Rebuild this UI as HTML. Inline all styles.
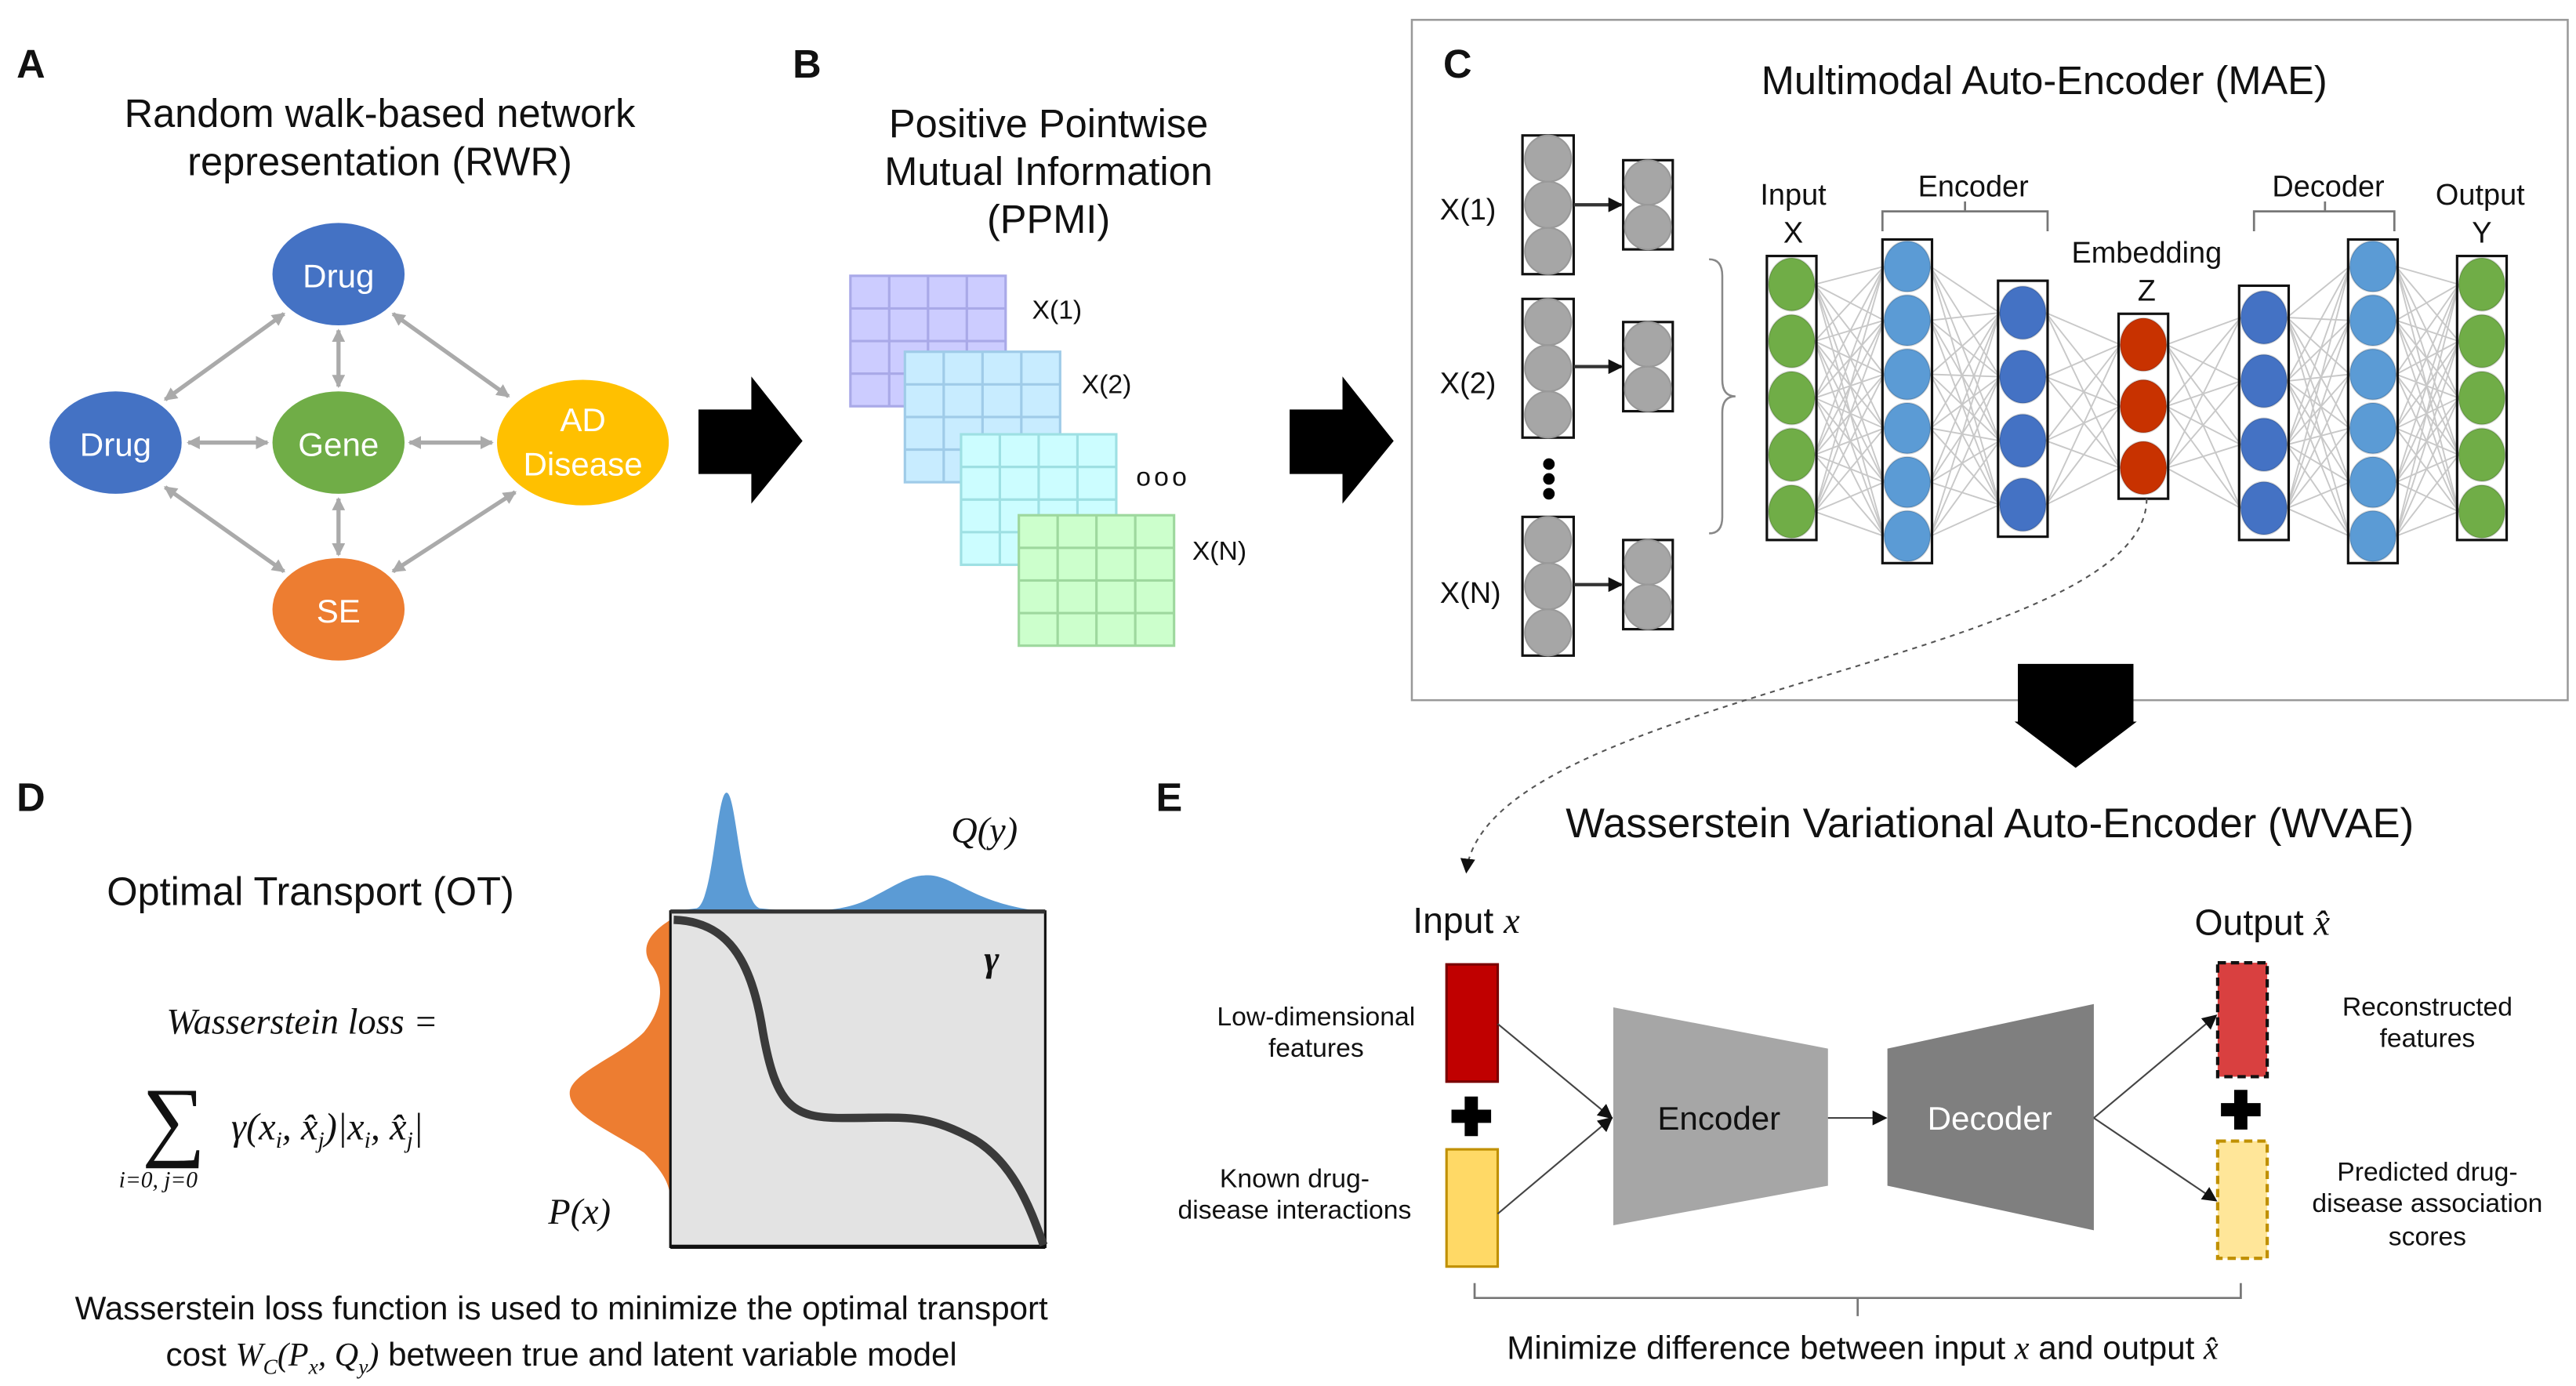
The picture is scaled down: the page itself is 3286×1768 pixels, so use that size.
<!DOCTYPE html>
<html><head><meta charset="utf-8"><style>
html,body{margin:0;padding:0;background:#fff;}
svg{display:block;}
text{font-family:"Liberation Sans",sans-serif;fill:#111;}
.s{font-family:"Liberation Serif",serif;font-style:italic;}
</style></head><body>
<svg id="sv" width="3286" height="1768" viewBox="0 0 1560 839.3" xmlns="http://www.w3.org/2000/svg">
<defs>
<marker id="ga" markerWidth="8" markerHeight="8" refX="7" refY="4" orient="auto-start-reverse" markerUnits="userSpaceOnUse"><path d="M0,0 L8,4 L0,8 z" fill="#aaa"/></marker>
<marker id="ba" markerWidth="9" markerHeight="9" refX="8" refY="4.5" orient="auto" markerUnits="userSpaceOnUse"><path d="M0,0 L9,4.5 L0,9 z" fill="#111"/></marker>
</defs>
<rect width="1560" height="840" fill="#fff"/>
<!-- Panel A -->
<text x="10" y="47" font-size="24" font-weight="bold">A</text>
<text x="230" y="77" font-size="24" text-anchor="middle">Random walk-based network</text>
<text x="230" y="106" font-size="24" text-anchor="middle">representation (RWR)</text>
<g stroke="#aaa" stroke-width="2.5" marker-start="url(#ga)" marker-end="url(#ga)">
<line x1="100" y1="242" x2="172" y2="190"/>
<line x1="205" y1="200" x2="205" y2="234"/>
<line x1="238" y1="190" x2="308" y2="240"/>
<line x1="114" y1="268" x2="162" y2="268"/>
<line x1="248" y1="268" x2="298" y2="268"/>
<line x1="100" y1="295" x2="172" y2="346"/>
<line x1="205" y1="302" x2="205" y2="336"/>
<line x1="238" y1="346" x2="312" y2="298"/>
</g>
<ellipse cx="205" cy="166" rx="40" ry="31" fill="#4472c4"/><text x="205" y="174" font-size="20" text-anchor="middle" style="fill:#fff">Drug</text>
<ellipse cx="70" cy="268" rx="40" ry="31" fill="#4472c4"/><text x="70" y="276" font-size="20" text-anchor="middle" style="fill:#fff">Drug</text>
<ellipse cx="205" cy="268" rx="40" ry="31" fill="#70ad47"/><text x="205" y="276" font-size="20" text-anchor="middle" style="fill:#fff">Gene</text>
<ellipse cx="353" cy="268" rx="52" ry="38" fill="#ffc000"/><text x="353" y="261" font-size="20" text-anchor="middle" style="fill:#fff">AD</text><text x="353" y="288" font-size="20" text-anchor="middle" style="fill:#fff">Disease</text>
<ellipse cx="205" cy="369" rx="40" ry="31" fill="#ed7d31"/><text x="205" y="377" font-size="20" text-anchor="middle" style="fill:#fff">SE</text>
<path d="M423,248 L455,248 L455,228 L486,267 L455,305 L455,287 L423,287 z" fill="#000"/>
<!-- Panel B -->
<text x="480" y="47" font-size="24" font-weight="bold">B</text>
<text x="635" y="83" font-size="24" text-anchor="middle">Positive Pointwise</text>
<text x="635" y="112" font-size="24" text-anchor="middle">Mutual Information</text>
<text x="635" y="141" font-size="24" text-anchor="middle">(PPMI)</text>
<g id="grids"></g>
<text x="625" y="193" font-size="16">X(1)</text>
<text x="655" y="238" font-size="16">X(2)</text>
<text x="688" y="294" font-size="16" letter-spacing="2">ooo</text>
<text x="722" y="339" font-size="16">X(N)</text>
<path d="M781,248 L813,248 L813,228 L844,267 L813,305 L813,287 L781,287 z" fill="#000"/>
<!-- Panel C -->
<rect x="855" y="12" width="700" height="412" fill="none" stroke="#999" stroke-width="1.2"/>
<text x="874" y="47" font-size="24" font-weight="bold">C</text>
<text x="1238" y="57" font-size="24" text-anchor="middle">Multimodal Auto-Encoder (MAE)</text>
<g id="left"></g>
<text x="872" y="133" font-size="18">X(1)</text>
<text x="872" y="238" font-size="18">X(2)</text>
<text x="872" y="365" font-size="18">X(N)</text>
<circle cx="938" cy="281" r="3.5" fill="#000"/><circle cx="938" cy="290" r="3.5" fill="#000"/><circle cx="938" cy="299" r="3.5" fill="#000"/>
<path d="M1035,157 q8,0 8,10 L1043,230 q0,10 8,10 q-8,0 -8,10 L1043,313 q0,10 -8,10" fill="none" stroke="#888" stroke-width="1.2"/>
<g id="net"></g>
<text x="1086" y="124" font-size="18" text-anchor="middle">Input</text>
<text x="1086" y="147" font-size="18" text-anchor="middle">X</text>
<text x="1195" y="119" font-size="18" text-anchor="middle">Encoder</text>
<path d="M1140,140 L1140,128 L1240,128 L1240,140 M1190,128 L1190,122" fill="none" stroke="#777" stroke-width="1.3"/>
<text x="1300" y="159" font-size="18" text-anchor="middle">Embedding</text>
<text x="1300" y="182" font-size="18" text-anchor="middle">Z</text>
<text x="1410" y="119" font-size="18" text-anchor="middle">Decoder</text>
<path d="M1365,140 L1365,128 L1450,128 L1450,140 M1408,128 L1408,122" fill="none" stroke="#777" stroke-width="1.3"/>
<text x="1502" y="124" font-size="18" text-anchor="middle">Output</text>
<text x="1503" y="147" font-size="18" text-anchor="middle">Y</text>
<path d="M1300,302 C1300,400 900,420 888,528" fill="none" stroke="#555" stroke-width="1" stroke-dasharray="3,3" marker-end="url(#ba)"/>
<path d="M1222,402 L1292,402 L1292,437 L1294,437 L1257,465 L1220,437 L1222,437 z" fill="#000"/>
<!-- Panel D -->
<text x="10" y="491" font-size="24" font-weight="bold">D</text>
<text x="188" y="548" font-size="24" text-anchor="middle">Optimal Transport (OT)</text>
<text x="183" y="626" font-size="22" class="s" text-anchor="middle">Wasserstein loss =</text>
<text x="86" y="696" font-size="54" style="font-family:'Liberation Serif',serif">∑</text>
<text x="72" y="719" font-size="14" class="s">i=0, j=0</text>
<text x="140" y="690" font-size="23" class="s">γ(x<tspan font-size="14" dy="5">i</tspan><tspan dy="-5">, x̂</tspan><tspan font-size="14" dy="5">j</tspan><tspan dy="-5">)|x</tspan><tspan font-size="14" dy="5">i</tspan><tspan dy="-5">, x̂</tspan><tspan font-size="14" dy="5">j</tspan><tspan dy="-5">|</tspan></text>
<path d="M406,552 L422,550 C432,546 434,480 440,480 C446,480 448,546 460,550 C490,553 510,552 525,545 C545,535 550,530 562,530 C578,530 590,548 633,552 Z" fill="#5b9bd5"/>
<path d="M406,557 C398,562 385,572 395,585 C402,595 402,610 390,625 C375,640 345,650 345,662 C345,675 370,685 390,698 C400,708 405,715 406,725 Z" fill="#ed7d31"/>
<rect x="406" y="552" width="227" height="203" fill="#e3e3e3" stroke="#111" stroke-width="1.5"/>
<line x1="406" y1="552" x2="633" y2="552" stroke="#333" stroke-width="2.5"/>
<line x1="406" y1="755" x2="633" y2="755" stroke="#111" stroke-width="2.5"/>
<path d="M408,557 C440,558 455,580 462,625 C470,670 480,677 510,677 C550,677 560,674 590,690 C615,705 625,735 632,754" fill="none" stroke="#3a3a3a" stroke-width="5"/>
<text x="596" y="588" font-size="22" class="s" font-weight="bold">γ</text>
<text x="576" y="510" font-size="22" class="s">Q(y)</text>
<text x="332" y="741" font-size="22" class="s">P(x)</text>
<text x="340" y="799" font-size="20" text-anchor="middle">Wasserstein loss function is used to minimize the optimal transport</text>
<text x="340" y="827" font-size="20" text-anchor="middle">cost <tspan class="s">W</tspan><tspan font-size="13" dy="5" class="s">C</tspan><tspan dy="-5" class="s">(P</tspan><tspan font-size="13" dy="5" class="s">x</tspan><tspan dy="-5" class="s">, Q</tspan><tspan font-size="13" dy="5" class="s">y</tspan><tspan dy="-5" class="s">)</tspan> between true and latent variable model</text>
<!-- Panel E -->
<text x="700" y="491" font-size="24" font-weight="bold">E</text>
<text x="1205" y="507" font-size="25" text-anchor="middle">Wasserstein Variational Auto-Encoder (WVAE)</text>
<text x="888" y="565" font-size="22" text-anchor="middle">Input <tspan class="s">x</tspan></text>
<text x="1370" y="566" font-size="22" text-anchor="middle">Output <tspan class="s">x̂</tspan></text>
<rect x="876" y="584" width="31" height="71" fill="#c00000" stroke="#7a0000" stroke-width="1.5"/>
<path d="M887,664 h8 v8 h8 v8 h-8 v8 h-8 v-8 h-8 v-8 h8 z" fill="#000"/>
<rect x="876" y="696" width="31" height="71" fill="#ffd966" stroke="#c09000" stroke-width="1.5"/>
<text x="797" y="621" font-size="16" text-anchor="middle">Low-dimensional</text>
<text x="797" y="640" font-size="16" text-anchor="middle">features</text>
<text x="784" y="719" font-size="16" text-anchor="middle">Known drug-</text>
<text x="784" y="738" font-size="16" text-anchor="middle">disease interactions</text>
<path d="M977,610 L1107,635 L1107,718 L977,742 z" fill="#a6a6a6"/>
<text x="1041" y="684" font-size="20" text-anchor="middle">Encoder</text>
<path d="M1143,635 L1268,608 L1268,745 L1143,718 z" fill="#7f7f7f"/>
<text x="1205" y="684" font-size="20" text-anchor="middle" style="fill:#fff">Decoder</text>
<g stroke="#444" stroke-width="1" fill="none" marker-end="url(#ba)">
<line x1="907" y1="620" x2="976" y2="677"/>
<line x1="907" y1="735" x2="976" y2="677"/>
<line x1="1107" y1="677" x2="1142" y2="677"/>
<line x1="1268" y1="677" x2="1342" y2="615"/>
<line x1="1268" y1="677" x2="1342" y2="727"/>
</g>
<rect x="1343" y="583" width="30" height="69" fill="#d94040" stroke="#111" stroke-width="2" stroke-dasharray="5,3"/>
<path d="M1353,660 h8 v8 h8 v8 h-8 v8 h-8 v-8 h-8 v-8 h8 z" fill="#000"/>
<rect x="1343" y="691" width="30" height="71" fill="#ffe699" stroke="#c09000" stroke-width="2" stroke-dasharray="5,3"/>
<text x="1470" y="615" font-size="16" text-anchor="middle">Reconstructed</text>
<text x="1470" y="634" font-size="16" text-anchor="middle">features</text>
<text x="1470" y="715" font-size="16" text-anchor="middle">Predicted drug-</text>
<text x="1470" y="734" font-size="16" text-anchor="middle">disease association</text>
<text x="1470" y="754" font-size="16" text-anchor="middle">scores</text>
<path d="M893,777 L893,786 L1357,786 L1357,777 M1125,786 L1125,797" fill="none" stroke="#777" stroke-width="1.3"/>
<text x="1128" y="823" font-size="20" text-anchor="middle">Minimize difference between input <tspan class="s">x</tspan> and output <tspan class="s">x̂</tspan></text>
</svg>
<script>
var NS="http://www.w3.org/2000/svg";
function el(p,t,a){var e=document.createElementNS(NS,t);for(var k in a)e.setAttribute(k,a[k]);p.appendChild(e);return e;}
var g=document.getElementById('grids');
[[515,167,'#ccccff','#a9a9e8'],[548,213,'#c8ecff','#9fcbe8'],[582,263,'#ccfdff','#9ee0e3'],[617,312,'#ccffcc','#9ed89e']].forEach(function(d){
 el(g,'rect',{x:d[0],y:d[1],width:94,height:79,fill:d[2],stroke:d[3],'stroke-width':1.5});
 for(var i=1;i<4;i++)el(g,'line',{x1:d[0]+i*23.5,y1:d[1],x2:d[0]+i*23.5,y2:d[1]+79,stroke:d[3],'stroke-width':1.5});
 for(var j=1;j<4;j++)el(g,'line',{x1:d[0],y1:d[1]+j*19.75,x2:d[0]+94,y2:d[1]+j*19.75,stroke:d[3],'stroke-width':1.5});
});
var L=document.getElementById('left');
[[82,97],[181,195],[313,327]].forEach(function(d){
 el(L,'rect',{x:922,y:d[0],width:31,height:84,fill:'#fff',stroke:'#111','stroke-width':1.5});
 for(var i=0;i<3;i++)el(L,'ellipse',{cx:937.5,cy:d[0]+14+i*28,rx:14,ry:14,fill:'#a6a6a6',stroke:'#999'});
 el(L,'rect',{x:983,y:d[1],width:30,height:54,fill:'#fff',stroke:'#111','stroke-width':1.5});
 for(var i=0;i<2;i++)el(L,'ellipse',{cx:998,cy:d[1]+13.5+i*27,rx:14,ry:13.5,fill:'#a6a6a6',stroke:'#999'});
 el(L,'line',{x1:953,y1:d[1]+27,x2:982,y2:d[1]+27,stroke:'#333','stroke-width':2,'marker-end':'url(#ba)'});
});
var N=document.getElementById('net');
function col(x,top,bot,n,c){var ys=[];var h=(bot-top)/n;for(var i=0;i<n;i++)ys.push(top+h*(i+0.5));return {x:x,top:top,bot:bot,ys:ys,c:c};}
var cols=[col(1085,155,327,5,'#70ad47'),col(1155,145,341,6,'#5b9bd5'),col(1225,170,325,4,'#4472c4'),col(1298,190,302,3,'#c83200'),col(1371,173,327,4,'#4472c4'),col(1437,145,341,6,'#5b9bd5'),col(1503,155,327,5,'#70ad47')];
for(var k=0;k<cols.length-1;k++){var a=cols[k],b=cols[k+1];
 a.ys.forEach(function(y1){b.ys.forEach(function(y2){el(N,'line',{x1:a.x+14,y1:y1,x2:b.x-14,y2:y2,stroke:'#c8c8c8','stroke-width':0.9});});});}
cols.forEach(function(c){
 el(N,'rect',{x:c.x-15,y:c.top,width:30,height:c.bot-c.top,fill:'none',stroke:'#111','stroke-width':1.5});
 c.ys.forEach(function(y){el(N,'ellipse',{cx:c.x,cy:y,rx:14,ry:Math.min(16,(c.bot-c.top)/c.ys.length/2-1),fill:c.c,stroke:'rgba(0,0,0,0.15)'});});
});
</script>
</body></html>
